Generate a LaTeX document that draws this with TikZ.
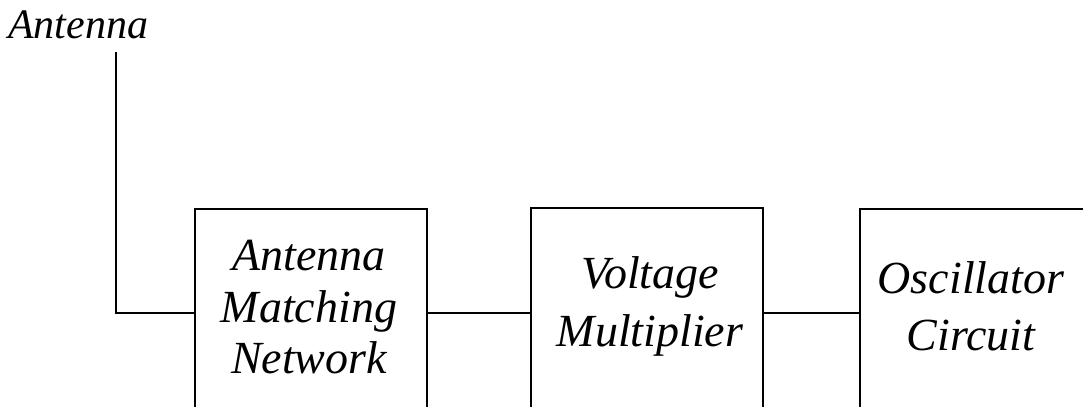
\documentclass[tikz,border=0pt]{standalone}
\usepackage{fontspec}
\setmainfont{Liberation Serif}
\begin{document}
\begin{tikzpicture}[x=0.75pt,y=-0.75pt,
  wire/.style={line width=1.5pt},
  blk/.style={draw,line width=1.7pt,rectangle,inner sep=0pt},
  lbl/.style={anchor=base,inner sep=0pt,font=\fontsize{34.5}{40}\selectfont\itshape},
  toplbl/.style={anchor=base west,inner sep=0pt,font=\fontsize{31.5}{36}\selectfont\itshape}]
\useasboundingbox (0,0) rectangle (1083,407);
\clip (0,0) rectangle (1083,407);
\fill[white] (0,0) rectangle (1083,407);
% boxes (extend past the lower and right edges)
\node[blk,minimum width=232*0.75pt,minimum height=208*0.75pt] (b1) at (311,313) {};
\node[blk,minimum width=232*0.75pt,minimum height=210*0.75pt] (b2) at (647,313) {};
\node[blk,minimum width=260*0.75pt,minimum height=208*0.75pt] (b3) at (990,313) {};
% texts
\node[toplbl] (ant) at (8,38) {Antenna};
\node[lbl] (t1a) at (309,270) {Antenna};
\node[lbl] (t1b) at (309,322) {Matching};
\node[lbl] (t1c) at (309,373) {Network};
\node[lbl] (t2a) at (650,288) {Voltage};
\node[lbl] (t2b) at (650,346) {Multiplier};
\node[lbl] (t3a) at (971,293) {Oscillator};
\node[lbl] (t3b) at (971,350) {Circuit};
% connectors
\coordinate (atop) at (116,52);
\draw[wire] (atop) |- (b1.west);
\draw[wire] (b1.east) -- (b2.west);
\draw[wire] (b2.east) -- (b3.west);
\end{tikzpicture}
\end{document}
